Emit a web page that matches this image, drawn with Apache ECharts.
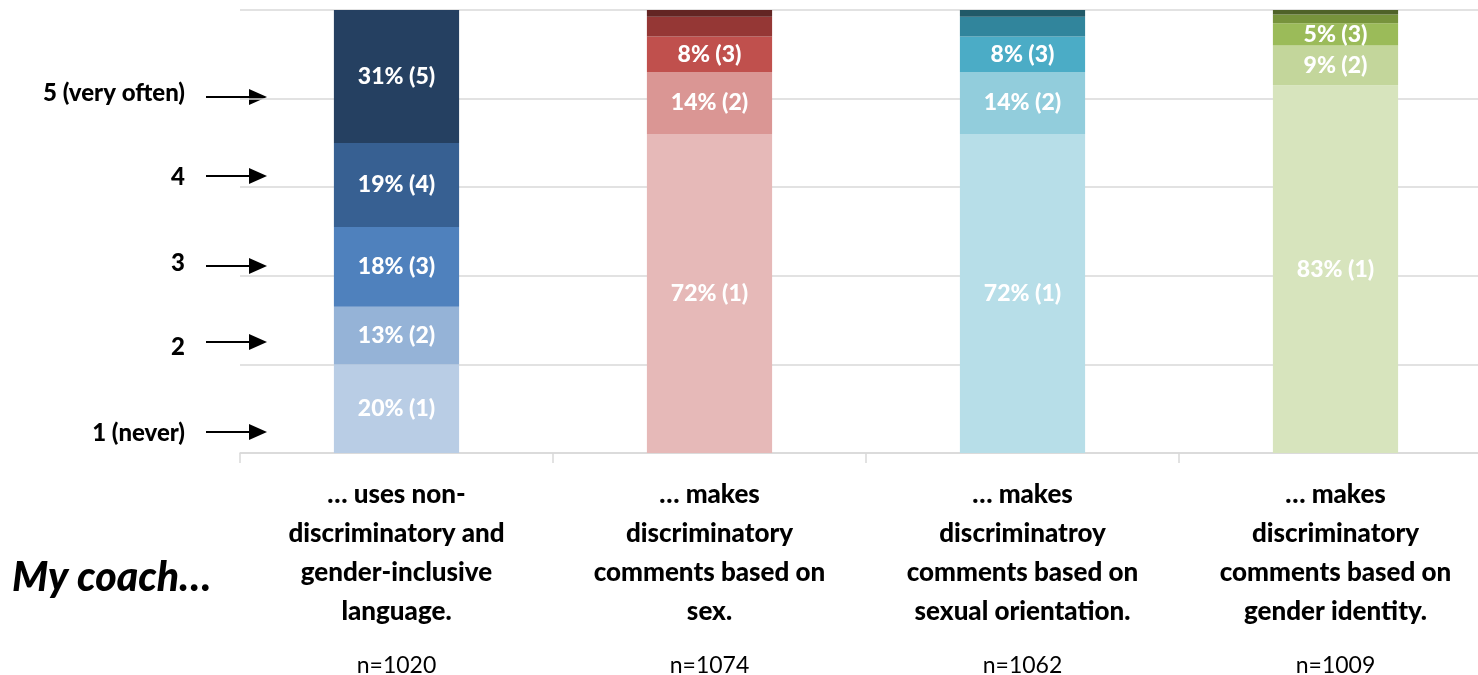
<!DOCTYPE html>
<html>
<head>
<meta charset="utf-8">
<script src="https://cdn.jsdelivr.net/npm/echarts@6/dist/echarts.min.js"></script>
<style>
  html, body { margin: 0; padding: 0; background: #ffffff; }
  #chart { width: 1478px; height: 675px; }
</style>
</head>
<body>
<div id="chart"></div>
<script>
// Survey items (one stacked bar per item)
const categories = [
  '… uses non-\ndiscriminatory and\ngender-inclusive\nlanguage.',
  '… makes\ndiscriminatory\ncomments based on\nsex.',
  '… makes\ndiscriminatroy\ncomments based on\nsexual orientation.',
  '… makes\ndiscriminatory\ncomments based on\ngender identity.'
];
const sampleSizes = ['n=1020', 'n=1074', 'n=1062', 'n=1009'];

// Share of answers per scale point (percent), one array per point
const level1 = [20, 72, 72, 83];
const level2 = [13, 14, 14, 9];
const level3 = [18, 8, 8, 5];
const level4 = [19, 4.5, 4.5, 2];
const level5 = [31, 1.5, 1.5, 1];
const levelValues = [level1, level2, level3, level4, level5];

// Scale annotations on the left
const scaleLabels = ['5 (very often)', '4', '3', '2', '1 (never)'];
const introText = 'My coach…';

// Colour ramps (point 1 → point 5) for each item
const palettes = [
  ['#B9CDE5', '#95B3D7', '#4F81BD', '#376092', '#254061'],
  ['#E6B9B8', '#DA9694', '#C0504D', '#953735', '#632523'],
  ['#B7DEE8', '#92CDDC', '#4BACC6', '#31859C', '#215968'],
  ['#D7E4BD', '#C3D69B', '#9BBB59', '#77933C', '#4F6228']
];

const FONT = 'Lato, sans-serif';
const HEAVY = 900;

const series = levelValues.map((vals, li) => ({
  name: String(li + 1),
  type: 'bar',
  stack: 'total',
  barWidth: '40%',
  clip: true,
  data: vals.map((v, ci) => ({ value: v, itemStyle: { color: palettes[ci][li] } })),
  label: {
    show: true,
    position: 'inside',
    color: '#ffffff',
    fontFamily: FONT,
    fontWeight: HEAVY,
    fontSize: 23,
    formatter: p => (p.value >= 5 ? p.value + '% (' + (li + 1) + ')' : '')
  },
  emphasis: { disabled: true }
}));

// Arrow annotations pointing at the first bar
const annotY = [[93, 97], [177, 176], [263, 266], [347, 342], [433, 432]];
const graphics = [];
scaleLabels.forEach((t, i) => {
  const ty = annotY[i][0], ay = annotY[i][1];
  graphics.push({
    type: 'text', x: 185, y: ty,
    style: {
      text: t, align: 'right', verticalAlign: 'middle',
      fontFamily: FONT, fontWeight: HEAVY, fontSize: 24, fill: '#000000'
    }
  });
  graphics.push({
    type: 'line',
    shape: { x1: 206, y1: ay, x2: 254, y2: ay },
    style: { stroke: '#000000', lineWidth: 2.2 }
  });
  graphics.push({
    type: 'polygon',
    shape: { points: [[249, ay - 8], [267, ay], [249, ay + 8]] },
    style: { fill: '#000000' }
  });
});
graphics.push({
  type: 'text', x: 12, y: 578,
  style: {
    text: introText, align: 'left', verticalAlign: 'middle',
    fontFamily: FONT, fontWeight: HEAVY, fontStyle: 'italic', fontSize: 41, fill: '#000000'
  }
});

const chart = echarts.init(document.getElementById('chart'), null, { renderer: 'canvas' });
chart.setOption({
  animation: false,
  backgroundColor: '#ffffff',
  grid: {
    left: 240, top: 10, width: 1252, height: 443,
    containLabel: false,
    outerBoundsMode: 'none'
  },
  xAxis: {
    type: 'category',
    data: categories,
    axisLine: { lineStyle: { color: '#d9d9d9', width: 1.5 } },
    axisTick: { show: true, length: 10, lineStyle: { color: '#d9d9d9', width: 1.5 } },
    axisLabel: {
      interval: 0,
      margin: 22,
      color: '#000000',
      fontFamily: FONT,
      fontWeight: HEAVY,
      fontSize: 26,
      lineHeight: 39,
      formatter: (v, idx) => v + '\n{n|' + sampleSizes[idx] + '}',
      rich: {
        n: { fontFamily: FONT, fontWeight: 'normal', fontSize: 23, lineHeight: 70, color: '#000000' }
      }
    }
  },
  yAxis: {
    type: 'value',
    min: 0,
    max: 100,
    interval: 20,
    axisLabel: { show: false },
    axisLine: { show: false },
    axisTick: { show: false },
    splitLine: { lineStyle: { color: '#d9d9d9', width: 1.5 } }
  },
  series: series,
  graphic: graphics
});
</script>
</body>
</html>
